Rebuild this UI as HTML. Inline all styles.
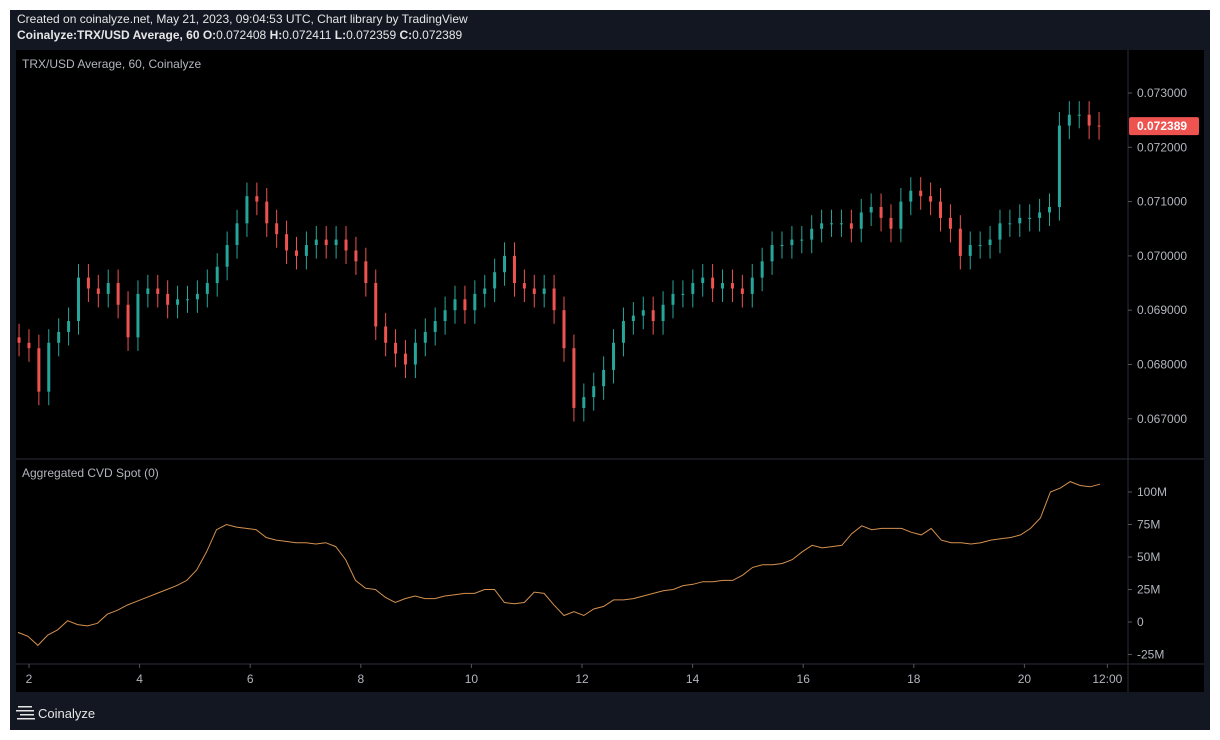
<!DOCTYPE html>
<html><head><meta charset="utf-8">
<style>
html,body{margin:0;padding:0;background:#fff;width:1220px;height:740px;overflow:hidden;font-family:"Liberation Sans",sans-serif}
#frame{position:absolute;left:10px;top:10px;width:1200px;height:720px;background:#131722}
.hdr{position:absolute;left:7px;color:#e6e6e6;font-size:12px;white-space:nowrap}
svg{position:absolute;left:0;top:0}
</style></head><body>
<div id="frame">
<div class="hdr" style="top:2px">Created on coinalyze.net, May 21, 2023, 09:04:53 UTC, Chart library by TradingView</div>
<div class="hdr" style="top:18px;font-weight:bold">Coinalyze:TRX/USD Average, 60 O:<span style="font-weight:normal">0.072408</span> H:<span style="font-weight:normal">0.072411</span> L:<span style="font-weight:normal">0.072359</span> C:<span style="font-weight:normal">0.072389</span></div>
</div>
<svg id="chart" width="1220" height="740"></svg>
<script>
// price closes (sampled every ~4.3h, from May 1 ~20:00)
const closes=[0.0684,0.0683,0.0675,0.0684,0.0686,0.0688,0.0696,0.0694,0.0693,0.0695,0.0691,0.0685,0.0693,0.0694,0.0693,0.0691,0.0692,0.0692,0.0693,0.0695,0.0698,0.0702,0.0706,0.0711,0.0710,0.0706,0.0704,0.0701,0.0700,0.0702,0.0703,0.0702,0.0703,0.0701,0.0699,0.0695,0.0687,0.0684,0.0682,0.0680,0.0684,0.0686,0.0688,0.0690,0.0692,0.0690,0.0693,0.0694,0.0697,0.0700,0.0695,0.0694,0.0693,0.0694,0.0690,0.0683,0.0672,0.0674,0.0676,0.0679,0.0684,0.0688,0.0689,0.0690,0.0688,0.0691,0.0693,0.0693,0.0695,0.0696,0.0694,0.0695,0.0694,0.0693,0.0696,0.0699,0.0702,0.0702,0.0703,0.0703,0.0705,0.0706,0.0706,0.0706,0.0705,0.0708,0.0709,0.0707,0.0705,0.0710,0.0712,0.0711,0.0710,0.0707,0.0705,0.0700,0.0702,0.0702,0.0703,0.0706,0.0706,0.0707,0.0707,0.0708,0.0709,0.0724,0.0726,0.0726,0.0724,0.072389];
// CVD values in millions
const cvd=[-8,-11,-18,-10,-6,1,-2,-3,-1,6,9,13,16,19,22,25,28,32,40,54,71,75,73,72,71,65,63,62,61,61,60,61,58,48,32,26,25,19,15,18,20,18,18,20,21,22,22,25,25,15,14,15,23,22,13,5,8,5,10,12,17,17,18,20,22,24,25,28,29,31,31,32,32,36,42,44,44,45,48,54,59,57,58,59,68,74,71,72,72,72,69,67,72,63,61,61,60,61,63,64,65,67,72,80,100,103,108,105,104,106];
const priceTicks=[0.073,0.072,0.071,0.070,0.069,0.068,0.067];
const cvdTicks=[100,75,50,25,0,-25];
const cvdTickLabels=["100M","75M","50M","25M","0","-25M"];
const dayTicks=[2,4,6,8,10,12,14,16,18,20,21.5];
const dayLabels=["2","4","6","8","10","12","14","16","18","20","12:00"];
const startDay=1.82;

const NS="http://www.w3.org/2000/svg";
const svg=document.getElementById('chart');
function el(t,a,p){const e=document.createElementNS(NS,t);for(const k in a)e.setAttribute(k,a[k]);(p||svg).appendChild(e);return e;}
const dayX=d=>29+(d-2)*55.3;
const stepDays=(1100-20)/55.3/(closes.length-1);
const idxX=i=>dayX(startDay)+i*stepDays*55.3;
const py=v=>93+(0.073-v)/0.001*54.3;
const cy=v=>622-v/25*32.5;

let r=el('rect',{x:16,y:50,width:1188,height:642,fill:'#000'});

let l=el('line',{x1:1128,y1:50,x2:1128,y2:692,stroke:'#2a2e39'});
l=el('line',{x1:16,y1:459,x2:1204,y2:459,stroke:'#2a2e39'});
l=el('line',{x1:16,y1:664,x2:1204,y2:664,stroke:'#2a2e39'});

let t=el('text',{x:22,y:68,fill:'#b2b5be','font-size':12});t.textContent='TRX/USD Average, 60, Coinalyze';

t=el('text',{x:22,y:477,fill:'#b2b5be','font-size':12});t.textContent='Aggregated CVD Spot (0)';


priceTicks.forEach(v=>{
 const y=py(v);
 let k=el('line',{x1:1128,x2:1132,y1:y,y2:y,stroke:'#555'});
 let tt=el('text',{x:1137,y:y+4,fill:'#b2b5be','font-size':12});tt.textContent=v.toFixed(6);
 
});
cvdTicks.forEach((v,i)=>{
 const y=cy(v);
 let k=el('line',{x1:1128,x2:1132,y1:y,y2:y,stroke:'#555'});
 let tt=el('text',{x:1137,y:y+4,fill:'#b2b5be','font-size':12});tt.textContent=cvdTickLabels[i];
 
});
dayTicks.forEach((d,i)=>{
 const x=dayX(d);
 let k=el('line',{x1:x,x2:x,y1:664,y2:668,stroke:'#555'});
 let tt=el('text',{x:x,y:683,fill:'#b2b5be','font-size':12,'text-anchor':'middle'});tt.textContent=dayLabels[i];
 
});
const g=el('g',{});
for(let i=0;i<closes.length;i++){
 const o=i?closes[i-1]:closes[0]+0.0001, c=closes[i];
 const up=c>=o, col=up?'#26a69a':'#ef5350';
 const x=idxX(i);
 const hi=Math.max(o,c)+0.00025, lo=Math.min(o,c)-0.00025;
 let w=el('line',{x1:x,x2:x,y1:py(hi),y2:py(lo),stroke:col,'stroke-width':1},g);
 
 let yt=py(Math.max(o,c)),yb=py(Math.min(o,c));
 let b=el('rect',{x:x-1.5,y:yt,width:3,height:Math.max(1,yb-yt),fill:col},g);
 
}
const ly=py(closes[closes.length-1]);
let lab=el('rect',{x:1129,y:ly-9,width:70,height:18,rx:2,fill:'#ef5350'});

t=el('text',{x:1137,y:ly+4,fill:'#fff','font-size':12,'font-weight':'bold'});t.textContent=closes[closes.length-1].toFixed(6);

const cStep=(1100-18)/(cvd.length-1);
const pts=cvd.map((v,i)=>(18+i*cStep).toFixed(1)+','+cy(v).toFixed(1)).join(' ');
let pline=el('polyline',{points:pts,fill:'none',stroke:'#d4914f','stroke-width':1});

const lg=el('g',{});
[[18,706,14],[16,710,18],[20,714,14],[17,718,18]].forEach(a=>{el('rect',{x:a[0],y:a[1],width:a[2],height:1.5,fill:'#e6e6e6'},lg);});
t=el('text',{x:38,y:718,fill:'#e6e6e6','font-size':13},lg);t.textContent='Coinalyze';

</script>
</body></html>
